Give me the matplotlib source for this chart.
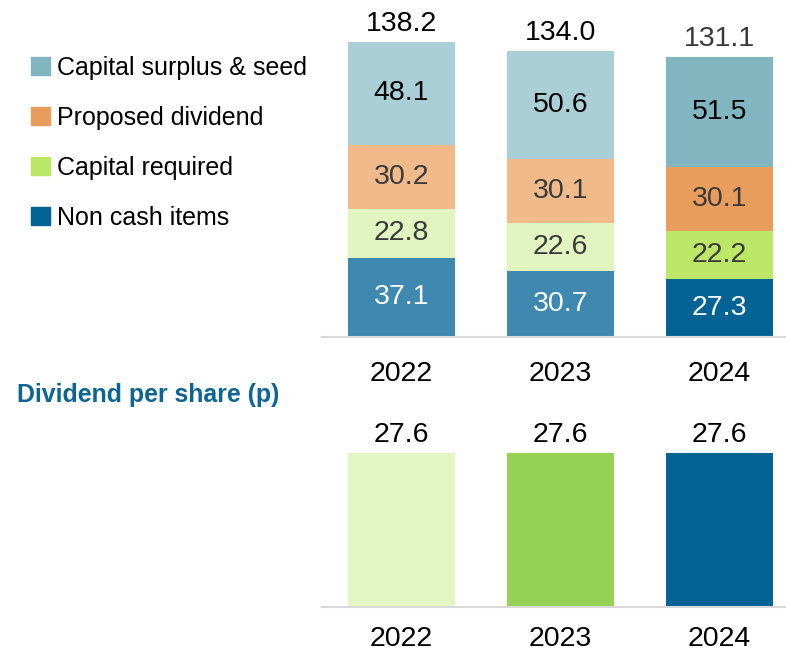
import matplotlib
matplotlib.use("Agg")
import matplotlib.pyplot as plt
from matplotlib.patches import Patch
import numpy as np

plt.rcParams['font.family'] = ['Liberation Sans', 'DejaVu Sans']

years = ["2022", "2023", "2024"]
series = ["Non cash items", "Capital required", "Proposed dividend", "Capital surplus & seed"]
non_cash = [37.1, 30.7, 27.3]
cap_req = [22.8, 22.6, 22.2]
prop_div = [30.2, 30.1, 30.1]
surplus = [48.1, 50.6, 51.5]
totals = [138.2, 134.0, 131.1]
dps = [27.6, 27.6, 27.6]

values = [non_cash, cap_req, prop_div, surplus]
# colours per segment per year (older years lighter)
seg_colors = [
    ["#3F88B0", "#3F88B0", "#006394"],
    ["#E2F5C0", "#E2F5C0", "#BDE867"],
    ["#F0BA8A", "#F0BA8A", "#E99D5C"],
    ["#AACFD6", "#AACFD6", "#81B6C0"],
]
legend_colors = ["#006394", "#BDE867", "#E99D5C", "#81B6C0"]
text_colors = ["white", "#3a3a3a", "#3a3a3a", "black"]
dps_colors = ["#E4F5C4", "#95D152", "#006394"]

FS = 20.5
W, H = 786, 653
fig = plt.figure(figsize=(W / 100, H / 100), dpi=100)

def px_axes(x0, y_top, x1, y_bottom):
    return fig.add_axes([x0 / W, 1 - y_bottom / H, (x1 - x0) / W, (y_bottom - y_top) / H])

# Top stacked chart
ax = px_axes(322, 0, 786, 337)
x = np.arange(len(years))
bw = 107 / 159
bottom = np.zeros(len(years))
for vals, cols, tc in zip(values, seg_colors, text_colors):
    ax.bar(x, vals, bw, bottom=bottom, color=cols, linewidth=0)
    for xi, v, b in zip(x, vals, bottom):
        ax.text(xi, b + v / 2, f"{v:.1f}", ha="center", va="center", fontsize=FS, color=tc)
    bottom = bottom + np.array(vals)
for xi, t, c in zip(x, totals, ["black", "black", "#3a3a3a"]):
    ax.annotate(f"{t:.1f}", (xi, t), xytext=(0, 13), textcoords="offset points",
                ha="center", va="center", fontsize=FS, color=c)
ax.set_xlim(-0.5, (786 - 401.5) / 159)
ax.set_ylim(0, 337 / 2.135)
ax.set_xticks(x)
ax.set_xticklabels(years, fontsize=FS)
ax.tick_params(axis="x", length=0, pad=17)
ax.set_yticks([])
for s in ["top", "right", "left"]:
    ax.spines[s].set_visible(False)
ax.spines["bottom"].set_color("#D9D9D9")
ax.spines["bottom"].set_linewidth(1.5)

# Bottom chart
ax2 = px_axes(322, 420, 786, 607)
ax2.bar(x, dps, bw, color=dps_colors, linewidth=0)
for xi, v in zip(x, dps):
    ax2.annotate(f"{v:.1f}", (xi, v), xytext=(0, 13), textcoords="offset points",
                 ha="center", va="center", fontsize=FS, color="black")
ax2.set_xlim(-0.5, (786 - 401.5) / 159)
ax2.set_ylim(0, 187 / (154 / 27.6))
ax2.set_xticks(x)
ax2.set_xticklabels(years, fontsize=FS)
ax2.tick_params(axis="x", length=0, pad=14)
ax2.set_yticks([])
for s in ["top", "right", "left"]:
    ax2.spines[s].set_visible(False)
ax2.spines["bottom"].set_color("#D9D9D9")
ax2.spines["bottom"].set_linewidth(1.5)

fig.text(17 / W, 1 - 395 / H, "Dividend per share (p)", fontsize=17.9, fontweight="bold",
         color="#0E6594", ha="left", va="center")

handles = [Patch(color=c, label=l) for c, l in zip(legend_colors[::-1], series[::-1])]
fig.legend(handles=handles, loc="upper left", bbox_to_anchor=(31 / W, 1 - 56 / H),
           frameon=False, fontsize=18, handlelength=0.75, handleheight=0.75,
           handletextpad=0.3, labelspacing=1.04, borderaxespad=0, borderpad=0)

fig.savefig("out.png", dpi=100)
